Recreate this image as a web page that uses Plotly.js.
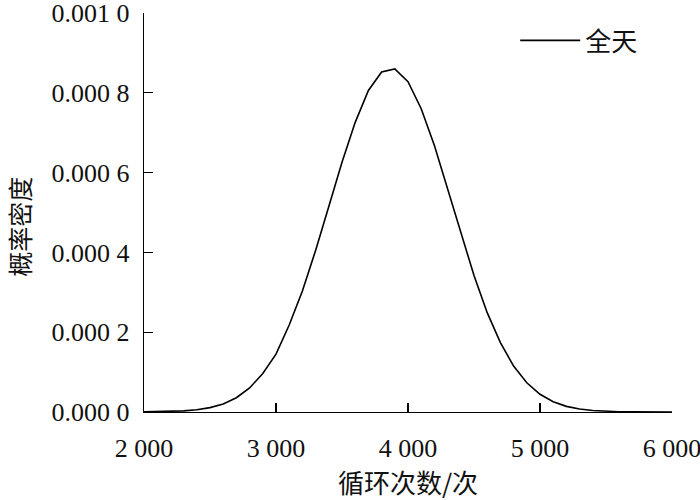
<!DOCTYPE html>
<html>
<head>
<meta charset="utf-8">
<script src="https://cdn.plot.ly/plotly-3.0.1.min.js"></script>
<style>html,body{margin:0;padding:0;background:#fff}#chart{width:700px;height:500px}</style>
</head>
<body>
<div id="chart"></div>
<script>
var seriesName = "全天";
var cycles = [2000,2100,2200,2300,2400,2500,2600,2700,2800,2900,3000,3100,3200,3300,3400,3500,3600,3700,3800,3900,4000,4100,4200,4300,4400,4500,4600,4700,4800,4900,5000,5100,5200,5300,5400,5500,5600,5700,5800,5900,6000];
var density = [0.0000003,0.0000006,0.0000013,0.0000028,0.0000057,0.000011,0.0000203,0.0000358,0.0000602,0.0000967,0.000145,0.000218,0.000303,0.000405,0.000515,0.000626,0.000726,0.000806,0.000852,0.000860,0.000828,0.000760,0.000668,0.000560,0.000448,0.000342,0.000249,0.000174,0.000115,0.0000732,0.0000443,0.0000256,0.0000141,0.0000074,0.0000037,0.0000018,0.0000008,0.0000004,0.0000002,0.0000001,0.0];
var xTickVals = [2000,3000,4000,5000,6000];
var xTickText = ["2 000","3 000","4 000","5 000","6 000"];
var yTickVals = [0,0.0002,0.0004,0.0006,0.0008,0.001];
var yTickText = ["0.000 0","0.000 2","0.000 4","0.000 6","0.000 8","0.001 0"];
var xTitle = "循环次数/次";
var yTitle = "概率密度";

var numFont = "'Liberation Serif', 'DejaVu Serif', serif";
var cjkFont = "'Noto Sans CJK SC', sans-serif";

var trace = {
  x: cycles, y: density, type: "scatter", mode: "lines", name: seriesName,
  line: {color: "#000", width: 1.6}
};

var layout = {
  width: 700, height: 500,
  paper_bgcolor: "#fff", plot_bgcolor: "#fff",
  margin: {l: 144, r: 28, t: 13, b: 88, pad: 0},
  font: {family: numFont, size: 24, color: "#111"},
  showlegend: true,
  legend: {x: 0.703, y: 0.99, xanchor: "left", yanchor: "top", bgcolor: "rgba(0,0,0,0)",
           itemwidth: 60,
           font: {family: cjkFont, size: 26, color: "#111"}},
  xaxis: {
    range: [2000, 6000], tickvals: xTickVals, ticktext: xTickText,
    ticks: "inside", ticklen: 9, tickwidth: 1.3, tickcolor: "#000",
    showline: true, linecolor: "#000", linewidth: 1.3, mirror: false,
    showgrid: false, zeroline: false, ticklabelstandoff: 12,
    ticklabeloverflow: "allow",
    tickfont: {family: numFont, size: 26, color: "#111"},
    title: {text: xTitle, standoff: 13, font: {family: cjkFont, size: 26, color: "#111"}}
  },
  yaxis: {
    range: [0, 0.001], tickvals: yTickVals, ticktext: yTickText,
    ticks: "inside", ticklen: 9, tickwidth: 1.3, tickcolor: "#000",
    showline: true, linecolor: "#000", linewidth: 1.3, mirror: false,
    showgrid: false, zeroline: false, ticklabelstandoff: 8,
    ticklabeloverflow: "allow",
    tickfont: {family: numFont, size: 26, color: "#111"}
  },
  annotations: [{
    text: yTitle, xref: "paper", yref: "paper", x: -0.236, y: 0.465,
    xanchor: "center", yanchor: "middle", textangle: -90, showarrow: false,
    borderpad: 0,
    font: {family: cjkFont, size: 25, color: "#111"}
  }]
};

Plotly.newPlot("chart", [trace], layout, {displayModeBar: false, staticPlot: true});
</script>
</body>
</html>
